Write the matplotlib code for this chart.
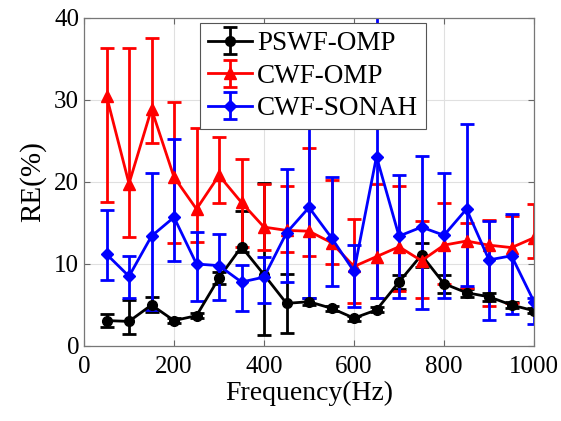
import numpy as np
import matplotlib
matplotlib.use("Agg")
import matplotlib.pyplot as plt

plt.rcParams["font.family"] = ["Liberation Serif", "DejaVu Serif"]

freq = [50, 100, 150, 200, 250, 300, 350, 400, 450, 500,
        550, 600, 650, 700, 750, 800, 850, 900, 950, 1000]

# PSWF-OMP: value, lower bound, upper bound
pswf = [3.1, 3.0, 5.0, 3.1, 3.7, 8.3, 12.1, 8.7, 5.2, 5.4,
        4.6, 3.4, 4.4, 7.8, 11.1, 7.6, 6.5, 6.0, 5.0, 4.3]
pswf_lo = [2.3, 1.5, 4.1, 2.8, 3.4, 7.6, 11.5, 1.4, 1.6, 5.0,
           4.3, 3.1, 4.1, 7.0, 9.6, 6.5, 6.0, 5.5, 4.6, 4.0]
pswf_hi = [3.9, 5.6, 6.0, 3.4, 4.0, 9.0, 16.5, 19.9, 8.8, 5.8,
           4.9, 3.7, 4.7, 8.6, 12.6, 8.7, 7.0, 6.5, 5.4, 4.6]

# CWF-OMP
cwf_omp = [30.5, 19.8, 28.9, 20.6, 16.7, 20.8, 17.5, 14.5, 14.1, 14.0,
           12.6, 9.7, 10.9, 12.1, 10.4, 12.3, 12.8, 12.3, 12.0, 13.2]
cwf_omp_lo = [17.5, 13.3, 24.8, 12.6, 12.7, 17.4, 12.1, 11.7, 11.5, 11.0,
              10.0, 5.2, 5.9, 6.7, 5.9, 7.6, 7.1, 4.9, 5.2, 10.7]
cwf_omp_hi = [36.4, 36.3, 37.6, 29.8, 26.6, 25.5, 22.8, 19.8, 19.5, 24.1,
              20.2, 15.5, 19.8, 19.5, 15.3, 17.4, 15.0, 15.4, 15.8, 17.3]

# CWF-SONAH
sonah = [11.2, 8.5, 13.4, 15.7, 10.0, 9.8, 7.8, 8.4, 13.8, 16.9,
         13.2, 9.1, 23.1, 13.4, 14.5, 13.5, 16.7, 10.5, 11.0, 5.4]
sonah_lo = [8.0, 5.8, 4.4, 10.4, 5.5, 5.6, 4.3, 5.3, 7.8, 5.8,
            7.3, 4.7, 5.9, 5.8, 4.5, 5.8, 7.3, 3.2, 3.9, 2.7]
sonah_hi = [16.6, 11.0, 21.1, 25.3, 13.9, 13.7, 9.9, 10.9, 21.6, 30.0,
            20.6, 12.3, 40.2, 20.9, 23.2, 21.1, 27.1, 15.3, 16.1, 5.9]

series = [
    ("PSWF-OMP", pswf, pswf_lo, pswf_hi, "black", "o", 7),
    ("CWF-OMP", cwf_omp, cwf_omp_lo, cwf_omp_hi, "red", "^", 8),
    ("CWF-SONAH", sonah, sonah_lo, sonah_hi, "blue", "D", 6),
]

fig = plt.figure(figsize=(5.61, 4.21), dpi=100)
ax = fig.add_axes([84 / 561, 75 / 421, 450 / 561, 328 / 421])

for name, y, lo, hi, col, mk, ms in series:
    y = np.array(y)
    err = [y - np.array(lo), np.array(hi) - y]
    ax.errorbar(freq, y, yerr=err, color=col, marker=mk, markersize=ms,
                linewidth=2, elinewidth=2, capsize=5, capthick=2,
                label=name)

ax.set_xlim(0, 1000)
ax.set_ylim(0, 40)
ax.set_xticks([0, 200, 400, 600, 800, 1000])
ax.set_yticks([0, 10, 20, 30, 40])
ax.grid(True, color="#e0e0e0", linewidth=0.8)
ax.set_axisbelow(True)
ax.tick_params(direction="in", top=True, right=True, labelsize=18,
               length=4, color="#666666")
ax.tick_params(axis="x", pad=7)
for s in ax.spines.values():
    s.set_color("#777777")
    s.set_linewidth(0.9)

ax.set_xlabel("Frequency(Hz)", fontsize=20, labelpad=2)
ax.set_ylabel("RE(%)", fontsize=21, labelpad=6)

leg = ax.legend(loc="upper left", bbox_to_anchor=(0.258, 0.985), fontsize=19.5,
                fancybox=False, framealpha=1, edgecolor="#555555",
                handlelength=1.6, handletextpad=0.2, labelspacing=0.28,
                borderpad=0.3, borderaxespad=0)
leg.set_zorder(10)
leg.get_frame().set_linewidth(0.8)

fig.savefig("out.png", dpi=100)
